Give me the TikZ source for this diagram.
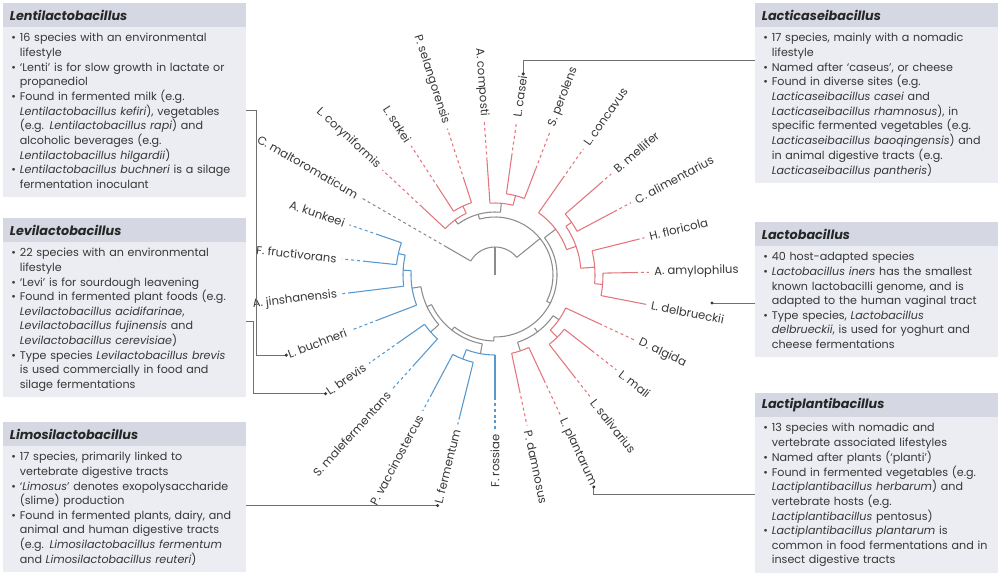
\documentclass[tikz,border=0pt]{standalone}
\usepackage{fontspec}
\setmainfont{Poppins}
\usepackage{xcolor}
\usepackage{tikz}

\definecolor{treered}{RGB}{226,118,124}
\definecolor{treeblue}{RGB}{88,152,204}
\definecolor{treegray}{RGB}{140,140,140}
\definecolor{bandfill}{RGB}{213,216,226}
\definecolor{boxfill}{RGB}{236,237,242}
\definecolor{inkgray}{RGB}{55,55,55}

\begin{document}
\begin{tikzpicture}[x=0.75pt,y=0.75pt,yscale=-1,xscale=1,
  redln/.style={color=treered,line width=0.8},
  blueln/.style={color=treeblue,line width=0.8},
  grayln/.style={color=treegray,line width=0.8},
  tipdash/.style={dash pattern=on 2.2pt off 2.2pt},
  leaflab/.style={font=\fontsize{8.7}{10}\selectfont,text=inkgray,inner sep=1.5pt},
  headbox/.style={fill=bandfill,minimum height=17.5pt,text width=172pt,inner xsep=5pt,inner ysep=0pt,align=left,anchor=north west,font=\fontsize{9.6}{11}\selectfont\bfseries\itshape,text=black!85},
  bodybox/.style={fill=boxfill,text width=170pt,inner xsep=6pt,inner ysep=3.5pt,align=left,anchor=north west,font=\fontsize{8.35}{10.9}\selectfont,text=inkgray},
  linkln/.style={color=treegray!80!black,line width=0.7}]
\useasboundingbox (0,0) rectangle (1000,574);

% Tree, centred at (495,275)
\begin{scope}[shift={(495,275)}]
%Root
\draw[grayln] (0,0) -- (-90:28) ;
\draw[grayln] (-39:28) arc[start angle=-39,end angle=-150,radius=28] ;
\draw[grayln] (-39:28) -- (-39:58) ;
\draw[grayln] (-105.5:58) arc[start angle=-105.5,end angle=27,radius=58] ;
%Top clade
\draw[grayln] (-105.5:58) -- (-105.5:63) ;
\draw[grayln] (-126:63) arc[start angle=-126,end angle=-85,radius=63] ;
\draw[grayln] (-126:63) -- (-126:68) ;
\draw[redln] (-137:68) arc[start angle=-137,end angle=-115,radius=68] ;
\draw[redln] (-115:68) -- (-115:76) ;
\draw[redln] (-123:76) arc[start angle=-123,end angle=-108,radius=76] ;
\draw[grayln] (-85:63) -- (-85:72) ;
\draw[redln] (-94:72) arc[start angle=-94,end angle=-75.5,radius=72] ;
\draw[redln] (-75.5:72) -- (-75.5:82) ;
\draw[redln] (-82:82) arc[start angle=-82,end angle=-69,radius=82] ;
%Right clade
\draw[grayln] (27:58) -- (27:62) ;
\draw[grayln] (-37:62) arc[start angle=-37,end angle=91,radius=62] ;
\draw[grayln] (-37:62) -- (-37:76) ;
\draw[redln] (-55:76) arc[start angle=-55,end angle=-19.5,radius=76] ;
\draw[redln] (-19.5:76) -- (-19.5:86) ;
\draw[redln] (-34.5:86) arc[start angle=-34.5,end angle=-4.5,radius=86] ;
\draw[redln] (-34.5:86) -- (-34.5:93) ;
\draw[redln] (-41:93) arc[start angle=-41,end angle=-28,radius=93] ;
\draw[redln] (-4.5:86) -- (-4.5:100) ;
\draw[redln] (-14:100) arc[start angle=-14,end angle=5,radius=100] ;
\draw[redln] (5:100) -- (5:108) ;
\draw[redln] (-1:108) arc[start angle=-1,end angle=11,radius=108] ;
%Lower clades
\draw[grayln] (91:62) -- (91:66) ;
\draw[grayln] (-269:66) arc[start angle=-269,end angle=-232,radius=66] ;
\draw[grayln] (-306.75:66) -- (-306.75:71) ;
\draw[grayln] (-325:71) arc[start angle=-325,end angle=-288.5,radius=71] ;
\draw[grayln] (-325:71) -- (-325:78) ;
\draw[redln] (-335:78) arc[start angle=-335,end angle=-315,radius=78] ;
\draw[redln] (-315:78) -- (-315:88) ;
\draw[redln] (-322:88) arc[start angle=-322,end angle=-308,radius=88] ;
\draw[grayln] (-288.5:71) -- (-288.5:80) ;
\draw[redln] (-295:80) arc[start angle=-295,end angle=-282,radius=80] ;
%Blue clade
\draw[grayln] (-232:66) -- (-232:70) ;
\draw[grayln] (-259.5:70) arc[start angle=-259.5,end angle=-205,radius=70] ;
\draw[grayln] (-259.5:70) -- (-259.5:80) ;
\draw[blueln] (-270:80) arc[start angle=-270,end angle=-249,radius=80] ;
\draw[blueln] (-249:80) -- (-249:90) ;
\draw[blueln] (-256:90) arc[start angle=-256,end angle=-242,radius=90] ;
\draw[grayln] (-205:70) -- (-205:75) ;
\draw[grayln] (-221.5:75) arc[start angle=-221.5,end angle=-189,radius=75] ;
\draw[grayln] (-221.5:75) -- (-221.5:86) ;
\draw[blueln] (-228:86) arc[start angle=-228,end angle=-215,radius=86] ;
\draw[grayln] (-189:75) -- (-189:84) ;
\draw[blueln] (-201:84) arc[start angle=-201,end angle=-177,radius=84] ;
\draw[blueln] (-177:84) -- (-177:92) ;
\draw[blueln] (-187:92) arc[start angle=-187,end angle=-167.5,radius=92] ;
\draw[blueln] (-167.5:92) -- (-167.5:99) ;
\draw[blueln] (-174:99) arc[start angle=-174,end angle=-161,radius=99] ;

%Leaves
\draw[redln] (-1:108) -- (-1:140) ; \draw[redln,tipdash] (-1:140) -- (-1:154) ;
\draw[redln] (-14:100) -- (-14:146) ; \draw[redln,tipdash] (-14:146) -- (-14:154) ;
\draw[redln] (-28:93) -- (-28:135) ; \draw[redln,tipdash] (-28:135) -- (-28:154) ;
\draw[redln] (-41:93) -- (-41:140) ; \draw[redln,tipdash] (-41:140) -- (-41:154) ;
\draw[redln] (-55:76) -- (-55:118) ; \draw[redln,tipdash] (-55:118) -- (-55:154) ;
\draw[redln] (-69:82) -- (-69:114) ; \draw[redln,tipdash] (-69:114) -- (-69:154) ;
\draw[redln] (-82:82) -- (-82:120) ; \draw[redln,tipdash] (-82:120) -- (-82:154) ;
\draw[redln] (-94:72) -- (-94:115) ; \draw[redln,tipdash] (-94:115) -- (-94:154) ;
\draw[redln] (-108:76) -- (-108:100) ; \draw[redln,tipdash] (-108:100) -- (-108:154) ;
\draw[redln] (-123:76) -- (-123:105) ; \draw[redln,tipdash] (-123:105) -- (-123:154) ;
\draw[redln] (-137:68) -- (-137:100) ; \draw[redln,tipdash] (-137:100) -- (-137:154) ;
\draw[grayln] (-150:28) -- (-150:56) ; \draw[grayln,tipdash] (-150:56) -- (-150:154) ;
\draw[blueln] (-161:99) -- (-161:123) ; \draw[blueln,tipdash] (-161:123) -- (-161:154) ;
\draw[blueln] (-174:99) -- (-174:130) ; \draw[blueln,tipdash] (-174:130) -- (-174:154) ;
\draw[blueln] (-187:92) -- (-187:145) ; \draw[blueln,tipdash] (-187:145) -- (-187:154) ;
\draw[blueln] (-201:84) -- (-201:125) ; \draw[blueln,tipdash] (-201:125) -- (-201:154) ;
\draw[blueln] (-215:86) -- (-215:117) ; \draw[blueln,tipdash] (-215:117) -- (-215:154) ;
\draw[blueln] (-228:86) -- (-228:120) ; \draw[blueln,tipdash] (-228:120) -- (-228:154) ;
\draw[blueln] (-242:90) -- (-242:135) ; \draw[blueln,tipdash] (-242:135) -- (-242:154) ;
\draw[blueln] (-256:90) -- (-256:146) ; \draw[blueln,tipdash] (-256:146) -- (-256:154) ;
\draw[blueln] (-270:80) -- (-270:122) ; \draw[blueln,tipdash] (-270:122) -- (-270:154) ;
\draw[redln] (-282:80) -- (-282:118) ; \draw[redln,tipdash] (-282:118) -- (-282:154) ;
\draw[redln] (-295:80) -- (-295:116) ; \draw[redln,tipdash] (-295:116) -- (-295:154) ;
\draw[redln] (-308:88) -- (-308:128) ; \draw[redln,tipdash] (-308:128) -- (-308:154) ;
\draw[redln] (-322:88) -- (-322:123) ; \draw[redln,tipdash] (-322:123) -- (-322:154) ;
\draw[redln] (-335:78) -- (-335:115) ; \draw[redln,tipdash] (-335:115) -- (-335:154) ;
\draw[redln] (-349:108) -- (-349:154) ;

% Leaf labels
\node[leaflab,anchor=west,rotate=1] (amylo) at (-1:157) {A. amylophilus};
\node[leaflab,anchor=west,rotate=14] (flori) at (-14:157) {H. floricola};
\node[leaflab,anchor=west,rotate=28] (alim) at (-28:157) {C. alimentarius};
\node[leaflab,anchor=west,rotate=41] (mell) at (-41:157) {B. mellifer};
\node[leaflab,anchor=west,rotate=55] (conc) at (-55:157) {L. concavus};
\node[leaflab,anchor=west,rotate=69] (perol) at (-69:157) {S. perolens};
\node[leaflab,anchor=west,rotate=82] (casei) at (-82:157) {L. casei};
\node[leaflab,anchor=east,rotate=-86] (compo) at (-94:157) {A. composti};
\node[leaflab,anchor=east,rotate=-72] (selang) at (-108:157) {P. selangorensis};
\node[leaflab,anchor=east,rotate=-57] (sakei) at (-123:157) {L. sakei};
\node[leaflab,anchor=east,rotate=-43] (coryn) at (-137:157) {L. coryniformis};
\node[leaflab,anchor=east,rotate=-30] (malto) at (-150:157) {C. maltoromaticum};
\node[leaflab,anchor=east,rotate=-19] (kunk) at (-161:157) {A. kunkeei};
\node[leaflab,anchor=east,rotate=-6] (fruct) at (-174:157) {F. fructivorans};
\node[leaflab,anchor=east,rotate=7] (jinsh) at (-187:157) {A. jinshanensis};
\node[leaflab,anchor=east,rotate=21] (buchn) at (-201:157) {L. buchneri};
\node[leaflab,anchor=east,rotate=35] (brevis) at (-215:157) {L. brevis};
\node[leaflab,anchor=east,rotate=48] (malef) at (-228:157) {S. malefermentans};
\node[leaflab,anchor=east,rotate=62] (vacc) at (-242:157) {P. vaccinostercus};
\node[leaflab,anchor=east,rotate=76] (ferm) at (-256:157) {L. fermentum};
\node[leaflab,anchor=east,rotate=90] (ross) at (-270:157) {F. rossiae};
\node[leaflab,anchor=west,rotate=282] (damn) at (-282:157) {P. damnosus};
\node[leaflab,anchor=west,rotate=295] (plant) at (-295:157) {L. plantarum};
\node[leaflab,anchor=west,rotate=308] (saliv) at (-308:157) {L. salivarius};
\node[leaflab,anchor=west,rotate=322] (mali) at (-322:157) {L. mali};
\node[leaflab,anchor=west,rotate=335] (algida) at (-335:157) {D. algida};
\node[leaflab,anchor=west,rotate=349] (delb) at (-349:157) {L. delbrueckii};
\end{scope}

% Lentilactobacillus box
\node[headbox] (lentihead) at (3,3) {Lentilactobacillus};
\node[bodybox] (lentibody) at (lentihead.south west) {\begin{tabular}{@{}l@{\hspace{3pt}}l@{}}
\textbullet & 16 species with an environmental\\
 & lifestyle\\
\textbullet & ‘Lenti’ is for slow growth in lactate or\\
 & propanediol\\
\textbullet & Found in fermented milk (e.g.\\
 & \textit{Lentilactobacillus kefiri}), vegetables\\
 & (e.g. \textit{Lentilactobacillus rapi}) and\\
 & alcoholic beverages (e.g.\\
 & \textit{Lentilactobacillus hilgardii})\\
\textbullet & \textit{Lentilactobacillus buchneri} is a silage\\
 & fermentation inoculant
\end{tabular}};

% Levilactobacillus box
\node[headbox] (levihead) at (3,218) {Levilactobacillus};
\node[bodybox] (levibody) at (levihead.south west) {\begin{tabular}{@{}l@{\hspace{3pt}}l@{}}
\textbullet & 22 species with an environmental\\
 & lifestyle\\
\textbullet & ‘Levi’ is for sourdough leavening\\
\textbullet & Found in fermented plant foods (e.g.\\
 & \textit{Levilactobacillus acidifarinae},\\
 & \textit{Levilactobacillus fujinensis} and\\
 & \textit{Levilactobacillus cerevisiae})\\
\textbullet & Type species \textit{Levilactobacillus brevis}\\
 & is used commercially in food and\\
 & silage fermentations
\end{tabular}};

% Limosilactobacillus box
\node[headbox] (limosihead) at (3,422) {Limosilactobacillus};
\node[bodybox] (limosibody) at (limosihead.south west) {\begin{tabular}{@{}l@{\hspace{3pt}}l@{}}
\textbullet & 17 species, primarily linked to\\
 & vertebrate digestive tracts\\
\textbullet & ‘\textit{Limosus}’ denotes exopolysaccharide\\
 & (slime) production\\
\textbullet & Found in fermented plants, dairy, and\\
 & animal and human digestive tracts\\
 & (e.g. \textit{Limosilactobacillus fermentum}\\
 & and \textit{Limosilactobacillus reuteri})
\end{tabular}};

% Lacticaseibacillus box
\node[headbox] (caseihead) at (755,3) {Lacticaseibacillus};
\node[bodybox] (caseibody) at (caseihead.south west) {\begin{tabular}{@{}l@{\hspace{3pt}}l@{}}
\textbullet & 17 species, mainly with a nomadic\\
 & lifestyle\\
\textbullet & Named after ‘caseus’, or cheese\\
\textbullet & Found in diverse sites (e.g.\\
 & \textit{Lacticaseibacillus casei} and\\
 & \textit{Lacticaseibacillus rhamnosus}), in\\
 & specific fermented vegetables (e.g.\\
 & \textit{Lacticaseibacillus baoqingensis}) and\\
 & in animal digestive tracts (e.g.\\
 & \textit{Lacticaseibacillus pantheris})
\end{tabular}};

% Lactobacillus box
\node[headbox] (lactohead) at (755,222) {Lactobacillus};
\node[bodybox] (lactobody) at (lactohead.south west) {\begin{tabular}{@{}l@{\hspace{3pt}}l@{}}
\textbullet & 40 host-adapted species\\
\textbullet & \textit{Lactobacillus iners} has the smallest\\
 & known lactobacilli genome, and is\\
 & adapted to the human vaginal tract\\
\textbullet & Type species, \textit{Lactobacillus}\\
 & \textit{delbrueckii}, is used for yoghurt and\\
 & cheese fermentations
\end{tabular}};

% Lactiplantibacillus box
\node[headbox] (planthead) at (755,393) {Lactiplantibacillus};
\node[bodybox] (plantbody) at (planthead.south west) {\begin{tabular}{@{}l@{\hspace{3pt}}l@{}}
\textbullet & 13 species with nomadic and\\
 & vertebrate associated lifestyles\\
\textbullet & Named after plants (‘planti’)\\
\textbullet & Found in fermented vegetables (e.g.\\
 & \textit{Lactiplantibacillus herbarum}) and\\
 & vertebrate hosts (e.g.\\
 & \textit{Lactiplantibacillus} pentosus)\\
\textbullet & \textit{Lactiplantibacillus plantarum} is\\
 & common in food fermentations and in\\
 & insect digestive tracts
\end{tabular}};

% Connectors
\path (lentibody.north east) ++(0,84) coordinate (lentiport);
\path (levibody.north east) ++(0,80) coordinate (leviport);
\path (caseibody.north west) ++(0,34) coordinate (caseiport);
\path (plantbody.north west) ++(0,78) coordinate (plantport);
\coordinate (delbdot) at (712,303);

\draw[linkln] (lentiport) -- ++(10,0) |- (buchn.west) ;
\fill[inkgray] (buchn.west) circle[radius=1.7] ;
\draw[linkln] (leviport) -- ++(7,0) |- (brevis.west) ;
\fill[inkgray] (brevis.west) circle[radius=1.7] ;
\draw[linkln] (limosibody.east |- ferm.west) -- (ferm.west) ;
\fill[inkgray] (ferm.west) circle[radius=1.7] ;
\draw[linkln] (casei.east) |- (caseiport) ;
\fill[inkgray] (casei.east) circle[radius=1.7] ;
\draw[linkln] (delbdot) -- (lactobody.west |- delbdot) ;
\fill[inkgray] (delbdot) circle[radius=1.7] ;
\draw[linkln] (plant.east) |- (plantport) ;
\fill[inkgray] (plant.east) circle[radius=1.7] ;

\end{tikzpicture}
\end{document}
